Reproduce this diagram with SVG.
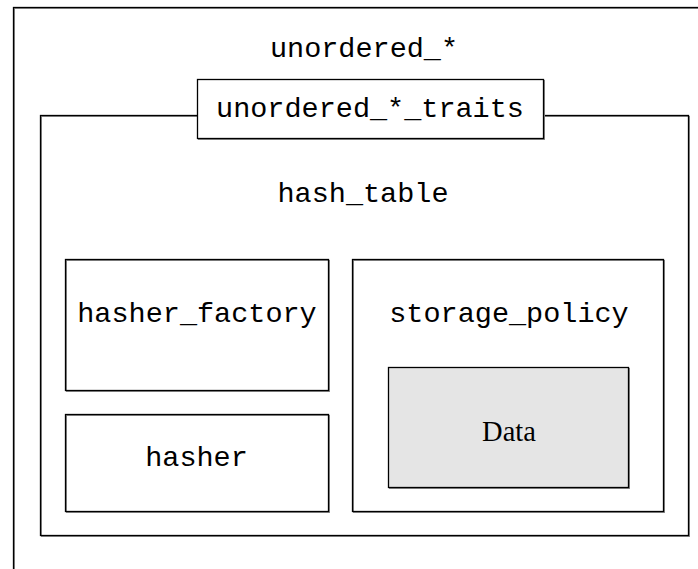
<svg xmlns="http://www.w3.org/2000/svg" width="698" height="569" viewBox="0 0 698 569">
  <style>
    .box { fill: none; stroke: #000; stroke-width: 1.3; }
    .shadow { fill: none; stroke: #8c8c8c; stroke-width: 1; }
    .white { fill: #fff; }
    .mono { font-family: "Liberation Mono", "Courier New", monospace; font-size: 28.5px; fill: #000; text-anchor: middle; }
    .serif { font-family: "Liberation Serif", "Times New Roman", serif; font-size: 28.5px; fill: #000; text-anchor: middle; }
  </style>
  <rect width="698" height="569" fill="#fff"/>

  <!-- outer container: unordered_* (runs past the right and bottom edges) -->
  <g id="unordered">
    <rect class="shadow" x="14.5" y="8.5" width="700" height="600"/>
    <rect class="box" x="13.5" y="7.5" width="700" height="600"/>
    <text class="mono" x="364" y="57">unordered_*</text>
  </g>

  <!-- hash_table -->
  <g id="hash_table">
    <rect class="shadow" x="41.5" y="116.5" width="648" height="420"/>
    <rect class="box" x="40.5" y="115.5" width="648" height="420"/>
    <text class="mono" x="363" y="202">hash_table</text>
  </g>

  <!-- traits tab sitting across the hash_table top edge -->
  <g id="traits">
    <rect class="shadow" x="198.5" y="80.5" width="346" height="59"/>
    <rect class="box white" x="197.5" y="79.5" width="346" height="59"/>
    <text class="mono" x="370" y="117">unordered_*_traits</text>
  </g>

  <g id="hasher_factory">
    <rect class="shadow" x="66.5" y="260.5" width="263" height="131"/>
    <rect class="box" x="65.5" y="259.5" width="263" height="131"/>
    <text class="mono" x="197" y="322">hasher_factory</text>
  </g>

  <g id="hasher">
    <rect class="shadow" x="66.5" y="415.5" width="263" height="97"/>
    <rect class="box" x="65.5" y="414.5" width="263" height="97"/>
    <text class="mono" x="196.5" y="466">hasher</text>
  </g>

  <g id="storage_policy">
    <rect class="shadow" x="353.5" y="260.5" width="311" height="252"/>
    <rect class="box" x="352.5" y="259.5" width="311" height="252"/>
    <text class="mono" x="509" y="322">storage_policy</text>
  </g>

  <g id="data">
    <rect class="shadow" x="389.5" y="368.5" width="240" height="120"/>
    <rect class="box" x="388.5" y="367.5" width="240" height="120" fill="#e5e5e5" style="fill:#e5e5e5"/>
    <text class="serif" x="509" y="441">Data</text>
  </g>

  <g id="connectors"></g>
</svg>
